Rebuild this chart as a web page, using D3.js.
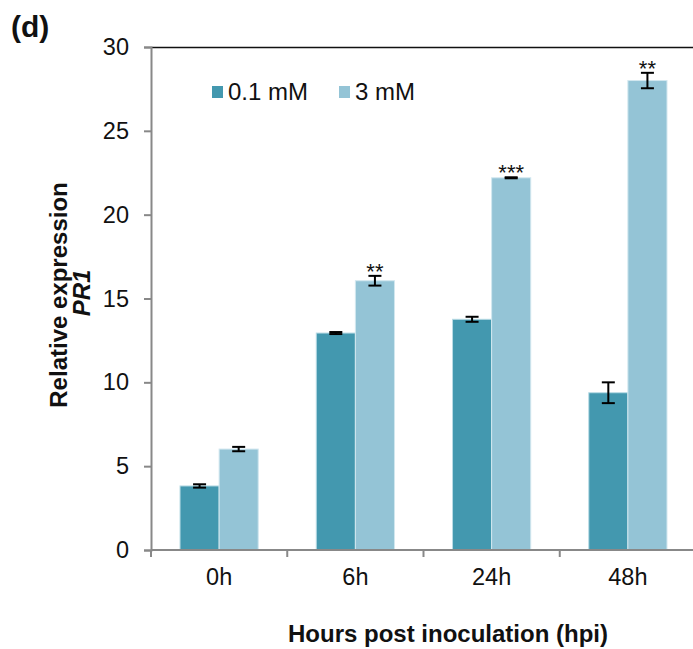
<!DOCTYPE html>
<html>
<head>
<meta charset="utf-8">
<script src="https://cdn.jsdelivr.net/npm/d3@7"></script>
<style>
body { margin: 0; background: #fff; }
text { font-family: Arial, "Liberation Sans", sans-serif; }
</style>
</head>
<body>
<div id="chart"></div>
<script>
var categories = ['0h', '6h', '24h', '48h'];
var seriesNames = ['0.1 mM', '3 mM'];
var valuesLow = [3.82, 12.94, 13.76, 9.38];
var errorsLow = [0.1, 0.06, 0.15, 0.62];
var valuesHigh = [6.02, 16.06, 22.2, 28.0];
var errorsHigh = [0.13, 0.29, 0.03, 0.46];
var stars = ['', '**', '***', '**'];
var yTicks = [0, 5, 10, 15, 20, 25, 30];

var colors = ['#4398AF', '#94C4D6'];
var width = 693, height = 649;
var margin = { left: 151, top: 47, right: -3, bottom: 99 };

var svg = d3.select('#chart').append('svg')
    .attr('width', width).attr('height', height);

var x0 = d3.scaleBand().domain(categories)
    .range([margin.left, width - margin.right]).padding(0);
var bw = x0.bandwidth();
var x1 = d3.scaleBand().domain(seriesNames).range([bw * 0.213, bw * 0.787]);
var y = d3.scaleLinear().domain([0, 30]).range([height - margin.bottom, margin.top]);

var series = [
    { name: seriesNames[0], values: valuesLow, errors: errorsLow },
    { name: seriesNames[1], values: valuesHigh, errors: errorsHigh }
];

// top border
svg.append('line')
    .attr('x1', margin.left).attr('x2', width)
    .attr('y1', y(30) + 0.5).attr('y2', y(30) + 0.5)
    .attr('stroke', '#111').attr('stroke-width', 1.5);

// bars
series.forEach(function(s, si) {
    svg.append('g').selectAll('rect').data(categories).enter().append('rect')
        .attr('x', function(c) { return x0(c) + x1(s.name); })
        .attr('y', function(c, i) { return y(s.values[i]); })
        .attr('width', x1.bandwidth())
        .attr('height', function(c, i) { return y(0) - y(s.values[i]); })
        .attr('fill', colors[si])
        .attr('stroke', si == 0 ? '#b9dbe5' : '#d2e7ef')
        .attr('stroke-width', 1);
});

// error bars
series.forEach(function(s) {
    var g = svg.append('g').attr('stroke', '#000').attr('stroke-width', 2);
    categories.forEach(function(c, i) {
        var cx = x0(c) + x1(s.name) + x1.bandwidth() / 2;
        var top = y(s.values[i] + s.errors[i]), bot = y(s.values[i] - s.errors[i]);
        g.append('line').attr('x1', cx).attr('x2', cx).attr('y1', top).attr('y2', bot);
        g.append('line').attr('x1', cx - 6.5).attr('x2', cx + 6.5).attr('y1', top).attr('y2', top);
        g.append('line').attr('x1', cx - 6.5).attr('x2', cx + 6.5).attr('y1', bot).attr('y2', bot);
    });
});

// significance stars
svg.append('g').selectAll('text').data(categories).enter().append('text')
    .attr('x', function(c) { return x0(c) + x1(seriesNames[1]) + x1.bandwidth() / 2; })
    .attr('y', function(c, i) { return y(valuesHigh[i] + errorsHigh[i]) + 3; })
    .attr('text-anchor', 'middle')
    .attr('font-size', 22)
    .attr('fill', '#111')
    .text(function(c, i) { return stars[i]; });

// y axis
var yAxis = svg.append('g')
    .attr('transform', 'translate(' + margin.left + ',0)')
    .call(d3.axisLeft(y).tickValues(yTicks).tickSize(7).tickPadding(15));
yAxis.selectAll('line, path').attr('stroke', '#888').attr('stroke-width', 2);
yAxis.selectAll('text').attr('font-size', 23.5).attr('fill', '#111')
    .style('font-family', 'Arial, "Liberation Sans", sans-serif');

// x axis
var xAxis = svg.append('g')
    .attr('transform', 'translate(0,' + y(0) + ')')
    .call(d3.axisBottom(x0).tickSize(0).tickPadding(18));
xAxis.select('path').attr('stroke', '#888').attr('stroke-width', 2)
    .attr('d', 'M' + margin.left + ',0H' + width);
xAxis.selectAll('text').attr('font-size', 23.5).attr('fill', '#111')
    .style('font-family', 'Arial, "Liberation Sans", sans-serif');
svg.append('g').selectAll('line').data(categories).enter().append('line')
    .attr('x1', function(c) { return x0(c); })
    .attr('x2', function(c) { return x0(c); })
    .attr('y1', y(0)).attr('y2', y(0) + 7)
    .attr('stroke', '#888').attr('stroke-width', 2);

// legend
var legend = svg.append('g').attr('transform', 'translate(212,86)');
var legX = [0, 127];
seriesNames.forEach(function(n, i) {
    legend.append('rect').attr('x', legX[i]).attr('y', 0).attr('width', 11).attr('height', 12)
        .attr('fill', colors[i]);
    legend.append('text').attr('x', legX[i] + 16).attr('y', 13.5)
        .attr('font-size', 24).attr('fill', '#111').text(n);
});

// titles
svg.append('text').attr('x', 11).attr('y', 37)
    .attr('font-size', 30).attr('font-weight', 'bold').attr('fill', '#111').text('(d)');

svg.append('text')
    .attr('transform', 'translate(67,295) rotate(-90)')
    .attr('text-anchor', 'middle')
    .attr('font-size', 24).attr('font-weight', 'bold').attr('fill', '#111')
    .text('Relative expression');
svg.append('text')
    .attr('transform', 'translate(90,293) rotate(-90)')
    .attr('text-anchor', 'middle')
    .attr('font-size', 24).attr('font-weight', 'bold').attr('font-style', 'italic')
    .attr('fill', '#111')
    .text('PR1');

svg.append('text').attr('x', 448).attr('y', 642)
    .attr('text-anchor', 'middle')
    .attr('font-size', 24).attr('font-weight', 'bold').attr('fill', '#111')
    .text('Hours post inoculation (hpi)');
</script>
</body>
</html>
